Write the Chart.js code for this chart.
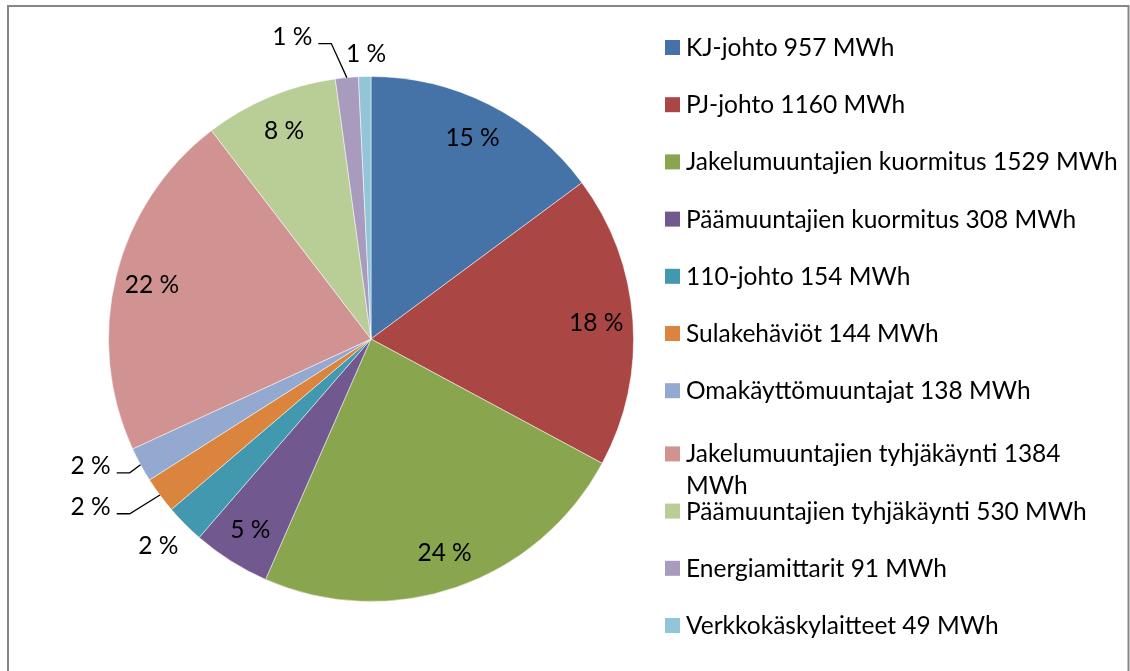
<!DOCTYPE html>
<html>
<head>
<meta charset="utf-8">
<script src="https://cdn.jsdelivr.net/npm/chart.js@4/dist/chart.umd.min.js"></script>
<style>
  html, body { margin: 0; padding: 0; background: #fff; }
  canvas { display: block; }
</style>
</head>
<body>
<canvas id="lossChart" width="1130" height="671"></canvas>
<script>
const categories = [
  "KJ-johto 957 MWh",
  "PJ-johto 1160 MWh",
  "Jakelumuuntajien kuormitus 1529 MWh",
  "Päämuuntajien kuormitus 308 MWh",
  "110-johto 154 MWh",
  "Sulakehäviöt 144 MWh",
  "Omakäyttömuuntajat 138 MWh",
  "Jakelumuuntajien tyhjäkäynti 1384 MWh",
  "Päämuuntajien tyhjäkäynti 530 MWh",
  "Energiamittarit 91 MWh",
  "Verkkokäskylaitteet 49 MWh"
];
const lossMWh = [957, 1160, 1529, 308, 154, 144, 138, 1384, 530, 91, 49];
const percentLabels = ["15 %", "18 %", "24 %", "5 %", "2 %", "2 %", "2 %", "22 %", "8 %", "1 %", "1 %"];

const colors = [
  "#4572a7", "#aa4643", "#89a54e", "#71588f", "#4198af", "#db843d",
  "#93a9cf", "#d19392", "#b9cd96", "#a99bbd", "#92c5d7"
];

const FONT = '24.5px Lato, "Noto Sans", sans-serif';

// labels that sit outside the pie (position in radius units from the centre)
const outsideLabels = {
  4: { fx: -0.810, fy: 0.787, leader: false },
  5: { fx: -1.068, fy: 0.639, leader: true },
  6: { fx: -1.068, fy: 0.483, leader: true },
  9: { fx: -0.300, fy: -1.152, leader: true },
  10: { fx: -0.019, fy: -1.087, leader: false }
};

const frame = {
  id: "frame",
  beforeDraw(chart) {
    const ctx = chart.ctx;
    ctx.save();
    ctx.strokeStyle = "#868686";
    ctx.lineWidth = 2;
    ctx.strokeRect(8, 6, 1120.5, 720);
    ctx.restore();
  }
};

const sliceLabels = {
  id: "sliceLabels",
  afterDatasetsDraw(chart) {
    const ctx = chart.ctx;
    const meta = chart.getDatasetMeta(0);
    ctx.save();
    ctx.font = FONT;
    ctx.fillStyle = "#000";
    ctx.textAlign = "center";
    ctx.textBaseline = "alphabetic";
    meta.data.forEach((arc, i) => {
      const { x, y, startAngle, endAngle, outerRadius } = arc.getProps(["x", "y", "startAngle", "endAngle", "outerRadius"], true);
      const mid = (startAngle + endAngle) / 2;
      const txt = percentLabels[i];
      const out = outsideLabels[i];
      let cx, cy;
      if (out) {
        cx = x + out.fx * outerRadius;
        cy = y + out.fy * outerRadius;
      } else {
        cx = x + Math.cos(mid) * outerRadius * 0.86;
        cy = y + Math.sin(mid) * outerRadius * 0.86;
      }
      ctx.fillText(txt, cx, cy + 8.5);
      if (out && out.leader) {
        const w = ctx.measureText(txt).width;
        const right = cx + w / 2;
        const ly = cy + 7;
        ctx.beginPath();
        ctx.strokeStyle = "#000";
        ctx.lineWidth = 1.3;
        ctx.moveTo(right + 6, ly);
        ctx.lineTo(right + 19, ly);
        ctx.lineTo(x + Math.cos(mid) * outerRadius, y + Math.sin(mid) * outerRadius);
        ctx.stroke();
      }
    });
    ctx.restore();
  }
};

const sideLegend = {
  id: "sideLegend",
  afterDraw(chart) {
    const ctx = chart.ctx;
    const bg = chart.data.datasets[0].backgroundColor;
    const boxX = 665, box = 15, textX = 686, maxW = 1124 - textX;
    ctx.save();
    ctx.font = FONT;
    ctx.fillStyle = "#000";
    ctx.textAlign = "left";
    ctx.textBaseline = "alphabetic";
    let shift = 0;
    chart.data.labels.forEach((label, i) => {
      // wrap long labels word by word
      const words = label.split(" ");
      const lines = [];
      let cur = "";
      words.forEach(wd => {
        const test = cur ? cur + " " + wd : wd;
        if (ctx.measureText(test).width > maxW && cur) {
          lines.push(cur);
          cur = wd;
        } else {
          cur = test;
        }
      });
      lines.push(cur);
      if (lines.length > 1) shift += 6;
      const yc = 47.5 + i * 57.2 + shift;
      ctx.fillStyle = bg[i];
      ctx.fillRect(boxX, yc - box / 2, box, box);
      ctx.fillStyle = "#000";
      lines.forEach((ln, k) => ctx.fillText(ln, textX, yc + 8.5 + k * 32));
    });
    ctx.restore();
  }
};

new Chart(document.getElementById("lossChart"), {
  type: "pie",
  data: {
    labels: categories,
    datasets: [
      {
        data: lossMWh,
        backgroundColor: colors,
        borderColor: "rgba(255,255,255,0.5)",
        borderWidth: 1
      }
    ]
  },
  options: {
    responsive: false,
    animation: false,
    layout: {
      padding: { left: 108, top: 76, right: 496, bottom: 69 }
    },
    plugins: {
      legend: { display: false },
      tooltip: { enabled: false }
    }
  },
  plugins: [frame, sliceLabels, sideLegend]
});
</script>
</body>
</html>
